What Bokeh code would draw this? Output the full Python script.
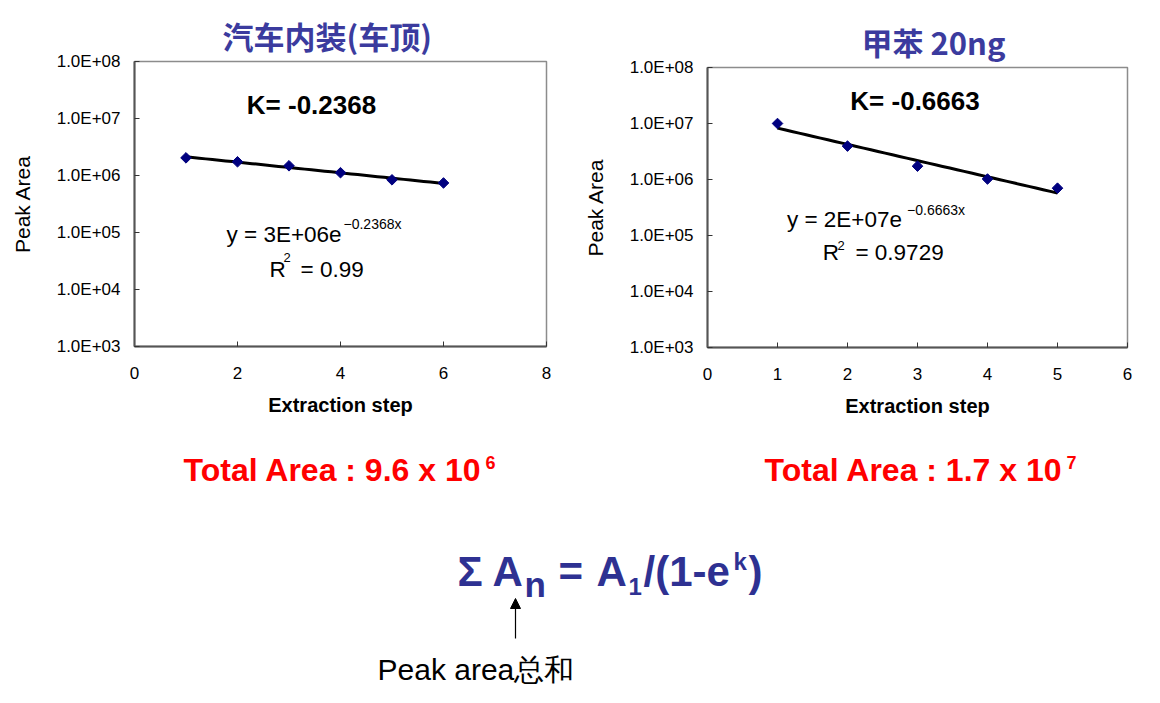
import numpy as np
from bokeh.plotting import figure
from bokeh.models import (Range1d, FixedTicker, CustomJSTickFormatter, Label, Title,
                          Arrow, NormalHead, ColumnDataSource)
from bokeh.layouts import column, row
from bokeh.embed import file_html
from bokeh.resources import INLINE

# ---------------- data ----------------
left_title = "汽车内装(车顶)"
right_title = "甲苯 20ng"

left_steps = [1, 2, 3, 4, 5, 6]
left_area = [2.04e6, 1.74e6, 1.48e6, 1.12e6, 8.4e5, 7.4e5]
right_steps = [1, 2, 3, 4, 5]
right_area = [1.0e7, 3.95e6, 1.73e6, 1.02e6, 7.0e5]

left_k_text = "K= -0.2368"
right_k_text = "K= -0.6663"
left_eq_main, left_eq_sup = "y = 3E+06e", "\u22120.2368x"
right_eq_main, right_eq_sup = "y = 2E+07e", "\u22120.6663x"
left_r2_value = "= 0.99"
right_r2_value = "= 0.9729"

left_total = ("Total Area : 9.6 x 10", "6")
right_total = ("Total Area : 1.7 x 10", "7")

y_ticks = [1e3, 1e4, 1e5, 1e6, 1e7, 1e8]
y_tick_labels = ["1.0E+03", "1.0E+04", "1.0E+05", "1.0E+06", "1.0E+07", "1.0E+08"]
left_x_ticks = [0, 2, 4, 6, 8]
right_x_ticks = [0, 1, 2, 3, 4, 5, 6]
x_label = "Extraction step"
y_label = "Peak Area"
note_text = "Peak area总和"

LATIN = "Liberation Sans"
CJK = "Noto Sans CJK SC"
TITLE_COLOR = "#3b3b9e"
FORMULA_COLOR = "#2e3192"

# page-pixel geometry of each panel (page = screenshot coordinates)
LEFT = dict(cx0=0, cx1=580, cy0=0, cy1=430, fx0=134, fx1=546, fy0=61, fy1=346,
            xr=(0, 8), title_left=222)
RIGHT = dict(cx0=580, cx1=1152, cy0=0, cy1=430, fx0=704, fx1=1127, fy0=67, fy1=347,
             xr=(0, 6), title_left=858)


def to_data(g, px, py):
    x = g["xr"][0] + (px - g["fx0"]) / (g["fx1"] - g["fx0"]) * (g["xr"][1] - g["xr"][0])
    ly = 8 - (py - g["fy0"]) / (g["fy1"] - g["fy0"]) * 5
    return x, 10 ** ly


def add_label(p, g, px, py, text, size, align="left",
              style="normal", color="black", font=LATIN):
    # py is the wanted baseline; compensate the renderer's baseline offset
    py = py - 0.37 * size
    if g is None:
        x, y = px, py
    else:
        x, y = to_data(g, px, py)
    p.add_layout(Label(x=x, y=y, text=text, text_font=font,
                       text_font_size=f"{size}px", text_font_style=style,
                       text_color=color, text_align=align, text_baseline="alphabetic"))


def make_panel(g, steps, area, xticks, title):
    w = g["cx1"] - g["cx0"]
    h = g["cy1"] - g["cy0"]
    p = figure(width=w, height=h, y_axis_type="log",
               x_range=Range1d(*g["xr"]), y_range=Range1d(y_ticks[0], y_ticks[-1]),
               output_backend="svg", toolbar_location=None, title=None)
    if "frame_align" in p.properties():
        p.frame_align = False
    p.min_border_left = g["fx0"] - g["cx0"]
    p.min_border_right = g["cx1"] - g["fx1"]
    p.min_border_top = g["fy0"] - g["cy0"]
    p.min_border_bottom = g["cy1"] - g["fy1"]
    p.background_fill_color = "white"
    p.border_fill_color = "white"
    p.grid.visible = False
    p.outline_line_color = "#8c8c8c"
    p.outline_line_width = 1.5

    p.add_layout(Title(text=title, align="left", offset=g["title_left"] - g["fx0"],
                       text_font=CJK, text_font_size="31px", text_font_style="bold",
                       text_color=TITLE_COLOR, standoff=8), "above")

    p.xaxis.ticker = FixedTicker(ticks=xticks, minor_ticks=[])
    p.yaxis.ticker = FixedTicker(ticks=y_ticks, minor_ticks=[])
    p.yaxis.formatter = CustomJSTickFormatter(
        args=dict(vals=y_ticks, labels=y_tick_labels),
        code="""
        let best = 0;
        for (let i = 0; i < vals.length; i++) {
            if (Math.abs(Math.log10(vals[i]) - Math.log10(tick)) < 1e-6) best = i;
        }
        return labels[best];
        """)
    for ax in (p.xaxis[0], p.yaxis[0]):
        ax.axis_line_color = "#555555"
        ax.axis_line_width = 2
        ax.major_tick_in = 5
        ax.major_tick_out = 0
        ax.major_tick_line_color = "#333333"
        ax.minor_tick_in = 0
        ax.minor_tick_out = 0
        ax.major_label_text_font = LATIN
        ax.major_label_text_font_size = "17px"
        ax.major_label_text_color = "black"
    p.yaxis.major_label_standoff = 14
    p.xaxis.major_label_standoff = 20
    p.xaxis.axis_label = x_label
    p.xaxis.axis_label_text_font = LATIN
    p.xaxis.axis_label_text_font_style = "bold"
    p.xaxis.axis_label_text_font_size = "20px"
    p.xaxis.axis_label_text_color = "black"
    p.xaxis.axis_label_standoff = 12
    p.yaxis.axis_label = y_label
    p.yaxis.axis_label_text_font = LATIN
    p.yaxis.axis_label_text_font_style = "normal"
    p.yaxis.axis_label_text_font_size = "21px"
    p.yaxis.axis_label_text_color = "black"
    p.yaxis.axis_label_standoff = 20

    # exponential trendline fitted to the data
    coef = np.polyfit(np.array(steps, dtype=float), np.log(np.array(area)), 1)
    xs = np.linspace(min(steps), max(steps), 40)
    ys = np.exp(np.polyval(coef, xs))
    p.line(xs, ys, line_color="black", line_width=3)

    src = ColumnDataSource(dict(x=steps, y=area))
    p.scatter("x", "y", source=src, marker="square", angle=np.pi / 4, size=7.5,
              fill_color="#00007f", line_color="#00007f")
    return p


pl = make_panel(LEFT, left_steps, left_area, left_x_ticks, left_title)
pr = make_panel(RIGHT, right_steps, right_area, right_x_ticks, right_title)

# K values
add_label(pl, LEFT, 311, 114, left_k_text, 26, align="center", style="bold")
add_label(pr, RIGHT, 913, 110, right_k_text, 26, align="center", style="bold")

# equations
add_label(pl, LEFT, 226, 242, left_eq_main, 22.5)
add_label(pl, LEFT, 343, 229, left_eq_sup, 14)
add_label(pl, LEFT, 269, 277, "R", 22.5)
add_label(pl, LEFT, 283, 262, "2", 13)
add_label(pl, LEFT, 300, 277, left_r2_value, 22.5)

add_label(pr, RIGHT, 784, 227, right_eq_main, 22.5)
add_label(pr, RIGHT, 905, 215, right_eq_sup, 14)
add_label(pr, RIGHT, 820, 260, "R", 22.5)
add_label(pr, RIGHT, 835, 250, "2", 13)
add_label(pr, RIGHT, 853, 260, right_r2_value, 22.5)

# ---------------- bottom text area ----------------
BX0, BX1, BY0, BY1 = 0, 1152, 430, 698
pb = figure(width=BX1 - BX0, height=BY1 - BY0,
            x_range=Range1d(BX0, BX1), y_range=Range1d(BY1, BY0),
            output_backend="svg", toolbar_location=None, title=None)
pb.min_border = 0
pb.axis.visible = False
pb.grid.visible = False
pb.outline_line_color = None
pb.background_fill_color = "white"
pb.border_fill_color = "white"

add_label(pb, None, 183, 481, left_total[0], 32, style="bold", color="#ff0000")
add_label(pb, None, 485, 469, left_total[1], 18, style="bold", color="#ff0000")
add_label(pb, None, 764, 481, right_total[0], 32, style="bold", color="#ff0000")
add_label(pb, None, 1066, 469, right_total[1], 18, style="bold", color="#ff0000")

add_label(pb, None, 457, 587, "\u03a3", 42, style="bold", color=FORMULA_COLOR)
add_label(pb, None, 492, 587, "A", 42, style="bold", color=FORMULA_COLOR)
add_label(pb, None, 524, 597, "n", 35, style="bold", color=FORMULA_COLOR)
add_label(pb, None, 558, 587, "=", 42, style="bold", color=FORMULA_COLOR)
add_label(pb, None, 596, 587, "A", 42, style="bold", color=FORMULA_COLOR)
add_label(pb, None, 628, 595, "1", 24, style="bold", color=FORMULA_COLOR)
add_label(pb, None, 643, 587, "/(1-e", 42, style="bold", color=FORMULA_COLOR)
add_label(pb, None, 733, 570, "k", 24, style="bold", color=FORMULA_COLOR)
add_label(pb, None, 748, 587, ")", 42, style="bold", color=FORMULA_COLOR)

pb.add_layout(Arrow(x_start=515, y_start=638, x_end=515, y_end=598,
                    line_color="black", line_width=1.2,
                    end=NormalHead(size=10, fill_color="black", line_color="black")))

add_label(pb, None, 377, 680, note_text, 30)

layout = column(row(pl, pr), pb)
open("out.html", "w").write(file_html(layout, INLINE))
